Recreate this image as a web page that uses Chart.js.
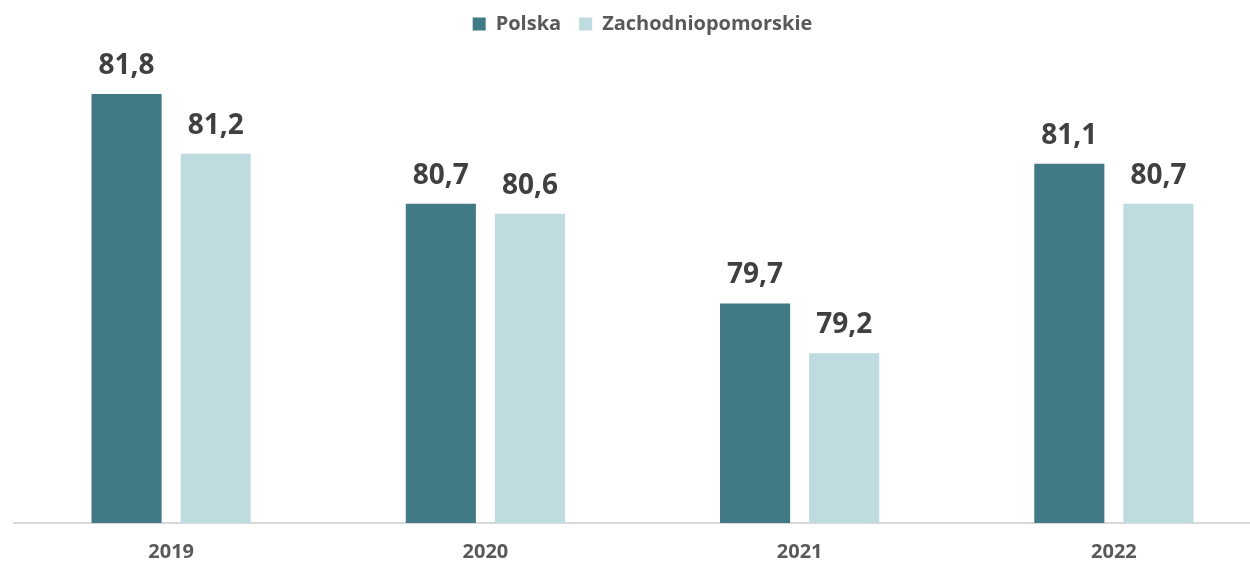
<!DOCTYPE html>
<html>
<head>
<meta charset="utf-8">
<script src="https://cdn.jsdelivr.net/npm/chart.js@4"></script>
<style>
  html, body { margin: 0; padding: 0; background: #fff; overflow: hidden; }
  #wrap { width: 1272px; height: 566px; }
</style>
</head>
<body>
<div id="wrap"><canvas id="chart"></canvas></div>
<script>
const years = ['2019', '2020', '2021', '2022'];
const polska = [81.8, 80.7, 79.7, 81.1];
const zachodniopomorskie = [81.2, 80.6, 79.2, 80.7];

// etykiety wartości nad słupkami (z przecinkiem)
const valueLabels = {
    id: 'valueLabels',
    afterDatasetsDraw(chart) {
        const ctx = chart.ctx;
        ctx.save();
        ctx.font = 'bold 28px "Open Sans"';
        ctx.fillStyle = '#404040';
        ctx.textAlign = 'center';
        ctx.textBaseline = 'alphabetic';
        chart.data.datasets.forEach((ds, i) => {
            chart.getDatasetMeta(i).data.forEach((bar, j) => {
                const txt = ds.data[j].toFixed(1).replace('.', ',');
                ctx.fillText(txt, bar.x, bar.y - 20);
            });
        });
        ctx.restore();
    }
};

new Chart(document.getElementById('chart'), {
    type: 'bar',
    data: {
        labels: years,
        datasets: [
            {
                label: 'Polska',
                data: polska,
                backgroundColor: '#417984',
                categoryPercentage: 0.567,
                barPercentage: 0.787
            },
            {
                label: 'Zachodniopomorskie',
                data: zachodniopomorskie,
                backgroundColor: '#bedbdf',
                categoryPercentage: 0.567,
                barPercentage: 0.787
            }
        ]
    },
    options: {
        responsive: true,
        maintainAspectRatio: false,
        animation: false,
        layout: { padding: { left: 14, right: 1, top: -4, bottom: 0 } },
        plugins: {
            legend: {
                position: 'top',
                labels: {
                    boxWidth: 13,
                    boxHeight: 13,
                    color: '#595959',
                    font: { family: 'Open Sans', size: 20, weight: 'bold' },
                    padding: 18
                }
            },
            tooltip: { enabled: false }
        },
        scales: {
            x: {
                grid: { display: false },
                border: { color: '#d9d9d9', width: 2 },
                ticks: {
                    color: '#595959',
                    font: { family: 'Open Sans', size: 20, weight: 'bold' },
                    padding: 9
                },
                afterFit: scale => { scale.height = 43; }
            },
            y: {
                display: false,
                min: 77.5,
                max: 82.3
            }
        }
    },
    plugins: [valueLabels]
});
</script>
</body>
</html>
